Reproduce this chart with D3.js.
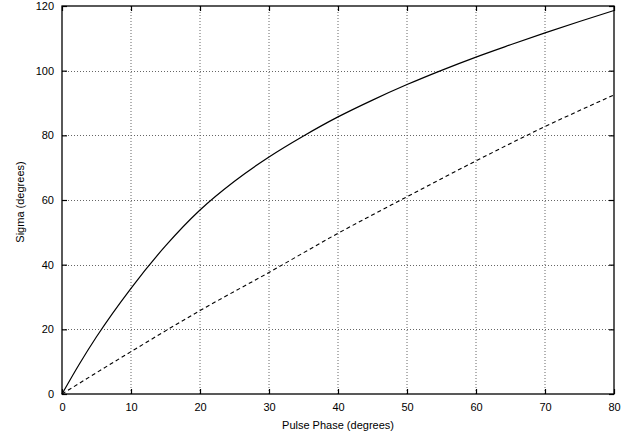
<!DOCTYPE html>
<html>
<head>
<meta charset="utf-8">
<script src="https://cdn.jsdelivr.net/npm/d3@7"></script>
<style>
  body { margin: 0; background: #fff; }
  svg { display: block; font-family: "Liberation Sans", Arial, Helvetica, sans-serif; }
  .grid line { stroke: #666; stroke-width: 1; stroke-dasharray: 1,2; }
</style>
</head>
<body>
<svg id="chart"></svg>
<script>
// pulse phase (degrees) and sigma (degrees)
var solidPhase = [0, 2.5, 5, 10, 15, 20, 25, 30, 35, 40, 45, 50, 55, 60, 65, 70, 75, 80];
var solidSigma = [0, 9.2, 17.7, 32.7, 45.8, 56.9, 65.8, 73.3, 79.8, 85.7, 90.9, 95.7, 100.1, 104.2, 108.0, 111.7, 115.2, 118.6];

var dashedPhase = [0, 10, 20, 30, 40, 50, 60, 70, 80];
var dashedSigma = [0, 13.1, 25.8, 37.6, 49.7, 61, 72.1, 82.7, 92.5];

var xTicks = [0, 10, 20, 30, 40, 50, 60, 70, 80];
var yTicks = [0, 20, 40, 60, 80, 100, 120];

var width = 638, height = 439;
var margin = { top: 6, right: 24, bottom: 45, left: 62 };

var svg = d3.select("#chart")
    .attr("width", width)
    .attr("height", height);

var x = d3.scaleLinear().domain([0, 80]).range([margin.left, width - margin.right]);
var y = d3.scaleLinear().domain([0, 120]).range([height - margin.bottom, margin.top]);

// grid
var grid = svg.append("g").attr("class", "grid");
grid.selectAll("line.v")
    .data(xTicks.slice(1, -1))
  .enter().append("line")
    .attr("class", "v")
    .attr("x1", function(d) { return x(d); })
    .attr("x2", function(d) { return x(d); })
    .attr("y1", y(0))
    .attr("y2", y(120));
grid.selectAll("line.h")
    .data(yTicks.slice(1, -1))
  .enter().append("line")
    .attr("class", "h")
    .attr("y1", function(d) { return Math.round(y(d)) + 0.5; })
    .attr("y2", function(d) { return Math.round(y(d)) + 0.5; })
    .attr("x1", x(0))
    .attr("x2", x(80));

// axes with inward ticks, mirrored on top and right
var tick = 5;
svg.append("g")
    .attr("transform", "translate(0," + y(0) + ")")
    .call(d3.axisBottom(x).tickValues(xTicks).tickSize(-tick).tickPadding(9).tickFormat(d3.format("d")))
    .call(function(g) { g.select(".domain").remove(); });
svg.append("g")
    .attr("transform", "translate(0," + y(120) + ")")
    .call(d3.axisTop(x).tickValues(xTicks).tickSize(-tick).tickFormat(""))
    .call(function(g) { g.select(".domain").remove(); });
svg.append("g")
    .attr("transform", "translate(" + x(0) + ",0)")
    .call(d3.axisLeft(y).tickValues(yTicks).tickSize(-tick).tickPadding(8).tickFormat(d3.format("d")))
    .call(function(g) { g.select(".domain").remove(); });
svg.append("g")
    .attr("transform", "translate(" + x(80) + ",0)")
    .call(d3.axisRight(y).tickValues(yTicks).tickSize(-tick).tickFormat(""))
    .call(function(g) { g.select(".domain").remove(); });

svg.selectAll(".tick text")
    .attr("font-size", 11)
    .attr("font-family", "\"Liberation Sans\", Arial, sans-serif")
    .attr("fill", "#000");
svg.selectAll(".tick line").attr("stroke", "#000").attr("stroke-width", 1.2);

// border
svg.append("rect")
    .attr("x", x(0))
    .attr("y", y(120))
    .attr("width", x(80) - x(0))
    .attr("height", y(0) - y(120))
    .attr("fill", "none")
    .attr("stroke", "#000")
    .attr("stroke-width", 1.3);

var line = d3.line()
    .x(function(d) { return x(d[0]); })
    .y(function(d) { return y(d[1]); })
    .curve(d3.curveMonotoneX);

svg.append("path")
    .datum(d3.zip(solidPhase, solidSigma))
    .attr("d", line)
    .attr("fill", "none")
    .attr("stroke", "#000")
    .attr("stroke-width", 1.2);

svg.append("path")
    .datum(d3.zip(dashedPhase, dashedSigma))
    .attr("d", line)
    .attr("fill", "none")
    .attr("stroke", "#000")
    .attr("stroke-width", 1.1)
    .attr("stroke-dasharray", "4,3");

// axis labels
svg.append("text")
    .attr("x", (x(0) + x(80)) / 2)
    .attr("y", 429)
    .attr("text-anchor", "middle")
    .attr("font-size", 11)
    .text("Pulse Phase (degrees)");

svg.append("text")
    .attr("transform", "translate(24," + (y(60) + 2) + ") rotate(-90)")
    .attr("text-anchor", "middle")
    .attr("font-size", 11)
    .text("Sigma (degrees)");
</script>
</body>
</html>
